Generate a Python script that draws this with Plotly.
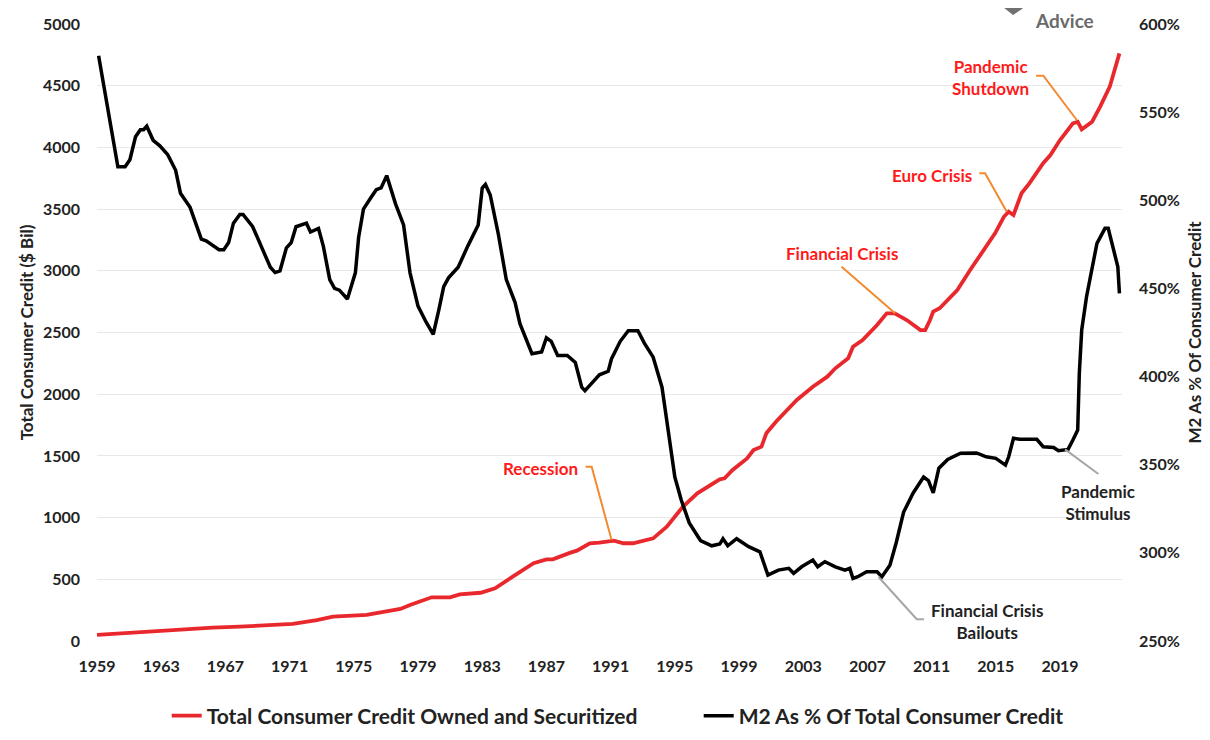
import plotly.graph_objects as go

# Total consumer credit owned and securitized ($ Bil)
credit_years = [1959.0, 1960.4, 1962.9, 1964.6, 1966.2, 1967.9, 1969.6, 1971.2, 1972.7, 1973.7,
                1975.8, 1977.05, 1977.9, 1978.5, 1979.85, 1981.0, 1981.6, 1982.9, 1983.8, 1984.9,
                1986.2, 1987.0, 1987.4, 1988.5, 1988.9, 1989.7, 1990.3, 1991.2, 1991.8, 1992.4,
                1993.25, 1993.65, 1994.5, 1995.5, 1996.4, 1997.2, 1997.8, 1998.1, 1998.6, 1999.5,
                1999.9, 2000.4, 2000.7, 2001.3, 2002.0, 2002.6, 2003.6, 2004.5, 2005.0, 2005.8,
                2006.1, 2006.7, 2007.6, 2008.2, 2008.7, 2009.45, 2010.3, 2010.6, 2010.9, 2011.1,
                2011.5, 2012.6, 2013.4, 2014.4, 2014.95, 2015.5, 2015.8, 2016.1, 2016.6, 2017.1,
                2017.95, 2018.4, 2019.0, 2019.8, 2020.1, 2020.35, 2021.0, 2021.5, 2022.1, 2022.7]
credit_values = [50, 62, 81, 95, 108, 116, 130, 138, 170, 197,
                 211, 237, 260, 292, 354, 354, 378, 391, 427, 521,
                 630, 662, 662, 716, 732, 792, 797, 813, 792, 792,
                 818, 832, 926, 1088, 1197, 1264, 1310, 1318, 1386, 1480,
                 1548, 1575, 1683, 1777, 1872, 1953, 2061, 2142, 2210, 2291,
                 2385, 2439, 2561, 2655, 2655, 2601, 2520, 2520, 2601, 2669,
                 2696, 2844, 3006, 3195, 3304, 3438, 3479, 3452, 3628, 3710,
                 3872, 3938, 4060, 4195, 4208, 4146, 4208, 4330, 4492, 4762]

# M2 as % of total consumer credit
m2_years = [1959.1, 1959.9, 1960.3, 1960.75, 1961.05, 1961.4, 1961.7, 1961.9, 1962.1, 1962.5,
            1962.9, 1963.4, 1963.9, 1964.2, 1964.8, 1965.5, 1965.8, 1966.6, 1966.9, 1967.2,
            1967.5, 1967.9, 1968.1, 1968.7, 1969.4, 1969.8, 1970.1, 1970.4, 1970.8, 1971.1,
            1971.4, 1971.75, 1972.05, 1972.3, 1972.8, 1973.1, 1973.5, 1973.8, 1974.1, 1974.6,
            1975.1, 1975.3, 1975.6, 1976.1, 1976.4, 1976.7, 1977.05, 1977.6, 1978.1, 1978.5,
            1979.0, 1979.5, 1979.95, 1980.3, 1980.6, 1980.9, 1981.5, 1982.1, 1982.75, 1983.0,
            1983.2, 1983.5, 1984.0, 1984.5, 1985.05, 1985.35, 1986.1, 1986.7, 1987.0, 1987.3,
            1987.7, 1988.3, 1988.8, 1989.2, 1989.4, 1989.9, 1990.3, 1990.85, 1991.05, 1991.6,
            1992.1, 1992.7, 1993.1, 1993.65, 1994.2, 1994.5, 1995.0, 1995.4, 1995.9, 1996.6,
            1997.3, 1997.8, 1998.0, 1998.3, 1998.85, 1999.6, 2000.3, 2000.8, 2001.45, 2002.1,
            2002.4, 2002.9, 2003.6, 2003.9, 2004.35, 2005.0, 2005.6, 2005.9, 2006.1, 2006.4,
            2006.95, 2007.6, 2007.9, 2008.4, 2008.8, 2009.25, 2009.85, 2010.5, 2010.8, 2011.1,
            2011.45, 2012.0, 2012.8, 2013.8, 2014.4, 2015.0, 2015.6, 2015.8, 2016.1, 2016.5,
            2017.55, 2017.95, 2018.6, 2018.9, 2019.5, 2019.8, 2020.1, 2020.2, 2020.35, 2020.65,
            2021.3, 2021.8, 2022.0, 2022.6, 2022.7]
m2_values = [582, 540, 519, 519, 523, 536, 540, 540, 542, 534,
             531, 526, 517, 504, 496, 478, 477, 472, 472, 476,
             487, 492, 492, 485, 470, 462, 459, 460, 473, 476,
             485, 486, 487, 482, 484, 474, 455, 450, 449, 444,
             459, 479, 495, 502, 506, 507, 514, 498, 486, 459,
             440, 431, 424, 438, 451, 456, 462, 474, 486, 507,
             509, 503, 481, 455, 442, 430, 413, 414, 422, 420,
             412, 412, 408, 394, 392, 397, 401, 403, 410, 420,
             426, 426, 419, 411, 394, 375, 343, 330, 317, 307,
             304, 305, 308, 304, 308, 303.5, 300.6, 287.4, 290.2, 291.2,
             288.4, 292.1, 295.9, 292.1, 295, 292.1, 290.2, 291.2, 285.5, 286.5,
             289.3, 289.3, 286.5, 293, 306, 323, 334, 343, 341, 334,
             348, 353, 356.5, 356.7, 354.5, 353.6, 349.8, 354.5, 365, 364.4,
             364.4, 360.2, 359.8, 357.9, 358.7, 364, 369.7, 401.8, 426.4, 445.3,
             475.6, 484.1, 484.1, 462.3, 447.2]

year_ticks = [1959, 1963, 1967, 1971, 1975, 1979, 1983, 1987, 1991, 1995,
              1999, 2003, 2007, 2011, 2015, 2019]
left_ticks = [0, 500, 1000, 1500, 2000, 2500, 3000, 3500, 4000, 4500, 5000]
right_ticks = [250, 300, 350, 400, 450, 500, 550, 600]

FONT = "Lato"
RED = "#E8282D"
TXT_RED = "#FF1A1A"
ORANGE = "#F28A30"
GREY = "#A6A6A6"
DARK = "#222222"

fig = go.Figure()
fig.add_trace(go.Scatter(
    x=credit_years, y=credit_values, mode="lines",
    name="Total Consumer Credit Owned and Securitized",
    line=dict(color=RED, width=3.8),
    legendwidth=487,
))
fig.add_trace(go.Scatter(
    x=m2_years, y=m2_values, mode="lines", yaxis="y2",
    name="M2 As % Of Total Consumer Credit",
    line=dict(color="black", width=3.5),
))

# text callouts (position in year / left-axis units)
callouts = [
    ("Recession", 1986.6, 1394, TXT_RED),
    ("Financial Crisis", 2005.4, 3142, TXT_RED),
    ("Euro Crisis", 2011.0, 3776, TXT_RED),
    ("Pandemic<br>Shutdown", 2014.65, 4566, TXT_RED),
    ("Financial Crisis<br>Bailouts", 2014.45, 156, DARK),
    ("Pandemic<br>Stimulus", 2021.37, 1126, DARK),
]
annotations = [
    dict(text=t, x=x, y=y, xref="x", yref="y", showarrow=False,
         font=dict(family=FONT, size=17, color=c, weight="bold"), align="center")
    for t, x, y, c in callouts
]
# logo text at the top right
annotations.append(dict(text="Advice", x=0.9737, y=1.0259, xref="paper", yref="paper",
                        yanchor="top", showarrow=False, borderpad=0,
                        font=dict(family=FONT, size=19, color="#6b6b6b", weight="bold")))

leaders = [
    ([(1989.44, 1412), (1989.82, 1412), (1991.06, 818)], ORANGE),
    ([(2005.39, 3033), (2008.72, 2655)], ORANGE),
    ([(2013.97, 3790), (2014.33, 3790), (2015.68, 3479)], ORANGE),
    ([(2017.51, 4581), (2017.96, 4581), (2020.04, 4222)], ORANGE),
    ([(2007.68, 521), (2010.07, 176), (2010.52, 176)], GREY),
    ([(2019.31, 1553), (2021.39, 1353)], GREY),
]
shapes = []
for pts, col in leaders:
    path = "M " + " L ".join(f"{x},{y}" for x, y in pts)
    shapes.append(dict(type="path", path=path, xref="x", yref="y",
                       line=dict(color=col, width=2)))

# shield of the logo
shapes.append(dict(type="path", xref="paper", yref="paper",
                   path="M 0.878,1.039 L 0.9102,1.039 L 0.9024,1.0243 L 0.8937,1.0146 L 0.8839,1.0275 Z",
                   fillcolor="#707070", line=dict(width=0)))

tick_font = dict(family=FONT, size=16, color=DARK, weight="bold")
title_font = dict(family=FONT, size=17, color=DARK, weight="bold")

# page body adds an 8px offset, so the figure is sized/margined to compensate
fig.update_layout(
    width=1202, height=724,
    margin=dict(l=89, r=88, t=16, b=91, autoexpand=False),
    plot_bgcolor="white", paper_bgcolor="white",
    showlegend=True,
    legend=dict(orientation="h", x=0.508, xanchor="center", y=-0.1216, yanchor="middle",
                font=dict(family=FONT, size=21, color=DARK, weight="bold")),
    xaxis=dict(range=[1959, 2022.86], tickvals=year_ticks, ticktext=[str(y) for y in year_ticks],
               showgrid=False, zeroline=False, showline=False, ticks="",
               tickfont=tick_font, ticklabelstandoff=14),
    yaxis=dict(range=[0, 5000], tickvals=left_ticks, showgrid=True, gridcolor="#E8E8E8",
               zeroline=False, showline=False, ticks="", tickfont=tick_font, ticklabelstandoff=16,
               title=dict(text="Total Consumer Credit ($ Bil)", standoff=4, font=title_font)),
    yaxis2=dict(range=[250, 600], tickvals=right_ticks, ticktext=[f"{v}%" for v in right_ticks],
                overlaying="y", side="right", showgrid=False, zeroline=False, showline=False,
                ticks="", tickfont=tick_font, ticklabelstandoff=16,
                title=dict(text="M2 As % Of Consumer Credit", standoff=10, font=title_font)),
    annotations=annotations,
    shapes=shapes,
)

fig.write_html("out.html")
